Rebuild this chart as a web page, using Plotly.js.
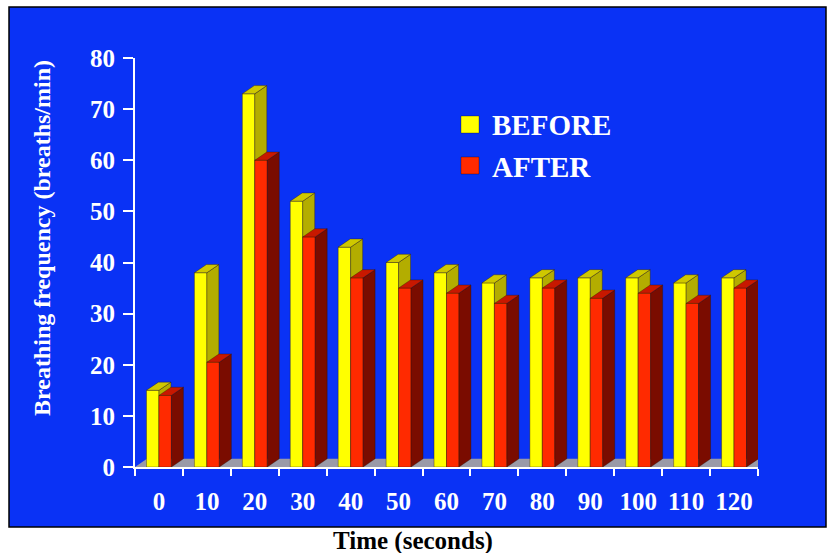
<!DOCTYPE html>
<html>
<head>
<meta charset="utf-8">
<script src="https://cdn.plot.ly/plotly-3.0.1.min.js"></script>
<style>html,body{margin:0;padding:0;background:#fff;}#chart{width:827px;height:553px;}</style>
</head>
<body>
<div id="chart"></div>
<script>
// ---- data ----
var categories = ["0","10","20","30","40","50","60","70","80","90","100","110","120"];
var before = [15, 38, 73, 52, 43, 40, 38, 36, 37, 37, 37, 36, 37];
var after  = [14, 20.5, 60, 45, 37, 35, 34, 32, 35, 33, 34, 32, 35];
var yTicks = [0,10,20,30,40,50,60,70,80];

// ---- 3D bar geometry (data units) ----
var W = 0.26, DX = 0.25, DY = 1.6;
var FONT = "Liberation Serif, Times New Roman, serif";

function faces(vals, off){
  var f = {x:[],y:[]}, s = {x:[],y:[]}, t = {x:[],y:[]};
  for (var i=0;i<vals.length;i++){
    var x0 = i+off, x1 = x0+W, v = vals[i];
    f.x.push(x0,x1,x1,x0,x0,null); f.y.push(0,0,v,v,0,null);
    s.x.push(x1,x1+DX,x1+DX,x1,x1,null); s.y.push(0,DY,v+DY,v,0,null);
    t.x.push(x0,x1,x1+DX,x0+DX,x0,null); t.y.push(v,v,v+DY,v+DY,v,null);
  }
  return [f,s,t];
}
function poly(d,color){
  return {type:'scatter',mode:'lines',x:d.x,y:d.y,fill:'toself',fillcolor:color,
    line:{color:'rgba(40,20,0,0.6)',width:0.6},hoverinfo:'skip',showlegend:false};
}
var n = categories.length;
var floor = {x:[-0.5,n-0.5,n-0.5+DX,-0.5+DX,-0.5],y:[0,0,DY,DY,0]};
var yb = faces(before,-W), rd = faces(after,0);
var traces = [
  {type:'scatter',mode:'lines',x:floor.x,y:floor.y,fill:'toself',fillcolor:'#9a9aa8',line:{width:0},hoverinfo:'skip',showlegend:false},
  poly(yb[0],'#ffff00'), poly(yb[1],'#b3ad00'), poly(yb[2],'#cfc800'),
  poly(rd[0],'#ff2a00'), poly(rd[1],'#7a0c00'), poly(rd[2],'#c81800')
];

// pixel -> paper helpers for decorations
var L=135,R=758,T=58,B=467;
function px(x){return (x-L)/(R-L);} function py(y){return (B-y)/(B-T);}

var layout = {
  width:827,height:553,
  margin:{l:L,r:827-R,t:T,b:553-B},
  paper_bgcolor:'#ffffff',plot_bgcolor:'rgba(0,0,0,0)',
  showlegend:false,
  xaxis:{range:[-0.5,n-0.5],tickvals:categories.map(function(c,i){return i;}),ticktext:categories,
    ticks:'',ticklabelstandoff:11,showgrid:false,zeroline:false,showline:true,linecolor:'#ffffff',linewidth:2,
    tickfont:{family:FONT,size:25,color:'#ffffff',weight:'bold'},
    minor:{tick0:-0.5,dtick:1,ticks:'outside',ticklen:7,tickwidth:2,tickcolor:'#ffffff',showgrid:false},
    fixedrange:true},
  yaxis:{range:[0,80],tickvals:yTicks,ticks:'outside',ticklen:10,tickwidth:2,tickcolor:'#ffffff',
    ticklabelstandoff:3,showgrid:false,zeroline:false,showline:true,linecolor:'#ffffff',linewidth:2,
    tickfont:{family:FONT,size:25,color:'#ffffff',weight:'bold'},fixedrange:true},
  shapes:[
    {type:'rect',xref:'paper',yref:'paper',x0:px(9),x1:px(826),y0:py(527),y1:py(7),
      fillcolor:'#0a32f5',line:{color:'#000000',width:1.5},layer:'below'},
    {type:'rect',xref:'paper',yref:'paper',x0:px(461),x1:px(479),y0:py(133),y1:py(116),
      fillcolor:'#ffff00',line:{color:'rgba(0,0,0,0.5)',width:0.6}},
    {type:'rect',xref:'paper',yref:'paper',x0:px(461),x1:px(479),y0:py(174),y1:py(157),
      fillcolor:'#ff2a00',line:{color:'rgba(0,0,0,0.5)',width:0.6}}
  ],
  annotations:[
    {xref:'paper',yref:'paper',x:px(490),y:py(125),xanchor:'left',yanchor:'middle',showarrow:false,
      text:'BEFORE',font:{family:FONT,size:29,color:'#ffffff',weight:'bold'}},
    {xref:'paper',yref:'paper',x:px(490),y:py(167),xanchor:'left',yanchor:'middle',showarrow:false,
      text:'AFTER',font:{family:FONT,size:29,color:'#ffffff',weight:'bold'}},
    {xref:'paper',yref:'paper',x:px(42),y:py(238),xanchor:'center',yanchor:'middle',showarrow:false,textangle:-90,
      text:'Breathing frequency (breaths/min)',font:{family:FONT,size:24,color:'#ffffff',weight:'bold'}},
    {xref:'paper',yref:'paper',x:px(413),y:py(541),xanchor:'center',yanchor:'middle',showarrow:false,
      text:'Time (seconds)',font:{family:FONT,size:25,color:'#000000',weight:'bold'}}
  ]
};
Plotly.newPlot('chart',traces,layout,{displayModeBar:false,staticPlot:true});
</script>
</body>
</html>
